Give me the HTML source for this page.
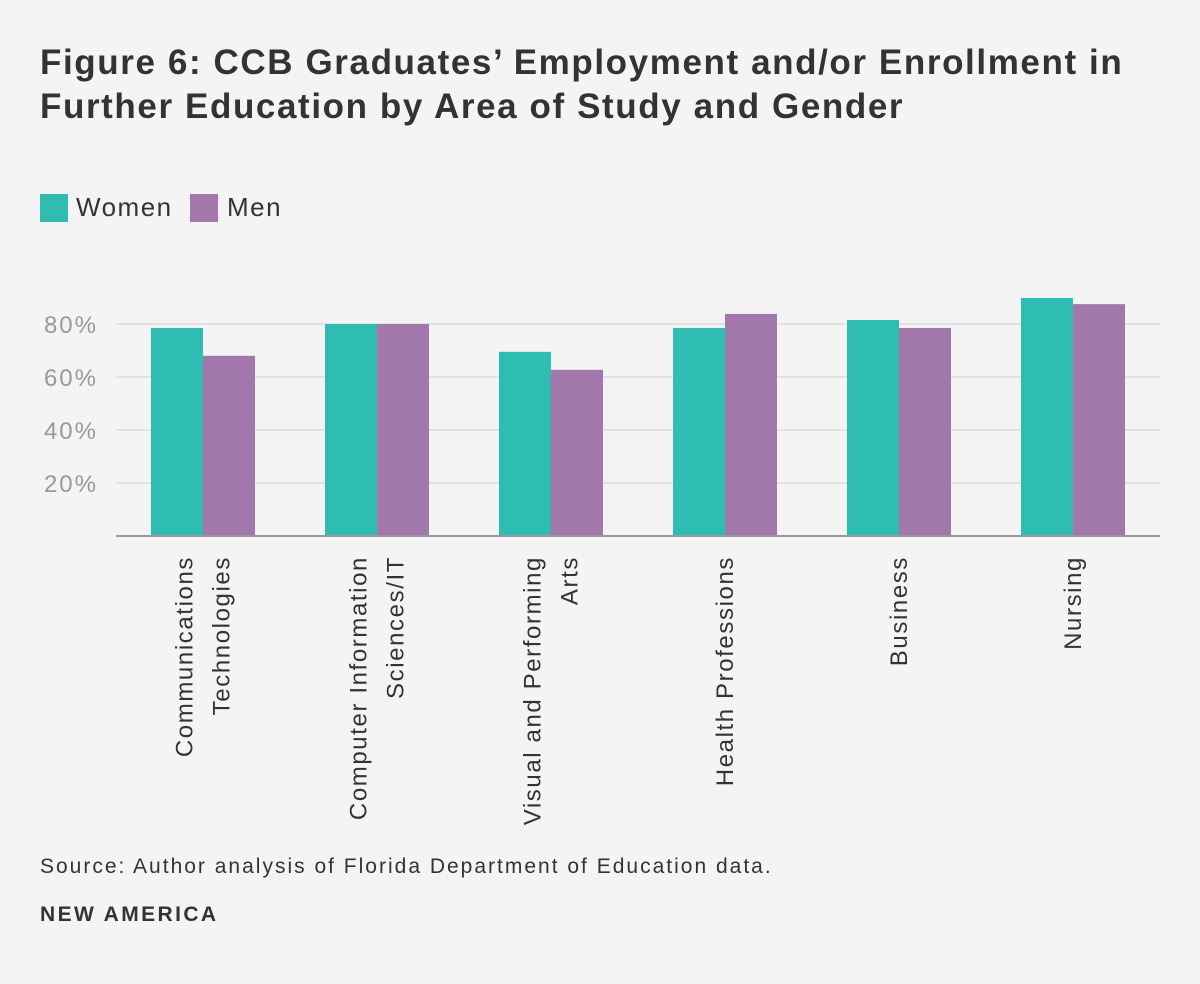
<!DOCTYPE html>
<html><head><meta charset="utf-8"><style>
body{margin:0;background:#f4f4f4;font-family:"Liberation Sans",sans-serif;color:#333}
#wrap{position:relative;width:1200px;height:984px;overflow:hidden;background:#f4f4f4}
</style></head><body>
<div id="wrap">
<svg width="1200" height="984" id="svg">
<text x="40" y="74" font-size="35" font-weight="bold" fill="#333" letter-spacing="1.6">Figure 6: CCB Graduates’ Employment and/or Enrollment in</text>
<text x="40" y="118" font-size="35" font-weight="bold" fill="#333" letter-spacing="1.6">Further Education by Area of Study and Gender</text>
<g>
<rect x="40" y="194" width="28" height="28" fill="#2ebcb3"/>
<text x="76" y="216" font-size="26" letter-spacing="1.5" fill="#333">Women</text>
<rect x="190" y="194" width="28" height="28" fill="#a278ac"/>
<text x="227" y="216" font-size="26" letter-spacing="1.5" fill="#333">Men</text>
</g>
<g id="plot"></g>
<text x="40" y="873" font-size="21" letter-spacing="2" fill="#333">Source: Author analysis of Florida Department of Education data.</text>
<text x="40" y="921" font-size="21" font-weight="bold" letter-spacing="2.4" fill="#333">NEW AMERICA</text>
</svg>
</div>
<script>
const categories=[["Communications","Technologies"],["Computer Information","Sciences/IT"],["Visual and Performing","Arts"],["Health Professions"],["Business"],["Nursing"]];
const women=[78.5,80,69.5,78.5,81.5,89.8];
const men=[68,80,62.7,83.8,78.5,87.5];
const ticks=[20,40,60,80];
const tickLabels=["20%","40%","60%","80%"];
const NS="http://www.w3.org/2000/svg";
const g=document.getElementById("plot");
const x0=116,x1=1160,y0=536,pxPer=2.65;
const y=v=>y0-v*pxPer;
const band=(x1-x0)/categories.length;
function mk(t,a){const e=document.createElementNS(NS,t);for(const k in a)e.setAttribute(k,a[k]);g.appendChild(e);return e;}
ticks.forEach((t,i)=>{
 const l=mk("line",{x1:x0,x2:x1,y1:y(t),y2:y(t),stroke:"#dcdcdc","stroke-width":1.5});
 
 
 const tx=mk("text",{x:98,y:y(t)+9,"font-size":24,"letter-spacing":2,fill:"#999","text-anchor":"end"});
 tx.textContent=tickLabels[i];
 
 
});
const bw=52;
categories.forEach((c,i)=>{
 const cx=x0+band*(i+0.5);
 const rw=mk("rect",{x:cx-bw,y:y(women[i]),width:bw,height:women[i]*pxPer,fill:"#2ebcb3"});
 
 
 const rm=mk("rect",{x:cx,y:y(men[i]),width:bw,height:men[i]*pxPer,fill:"#a278ac"});
 
 
 const n=c.length;
 c.forEach((line,j)=>{
  const lx=cx+(j-(n-1)/2)*37+8;
  const t=mk("text",{x:0,y:0,"font-size":24,"letter-spacing":1.6,fill:"#333","text-anchor":"end",transform:`translate(${lx},556) rotate(-90)`});
  t.textContent=line;
  
  
 });
});
const ax=mk("line",{x1:x0,x2:x1,y1:y0,y2:y0,stroke:"#999","stroke-width":2});


</script>
</body></html>
